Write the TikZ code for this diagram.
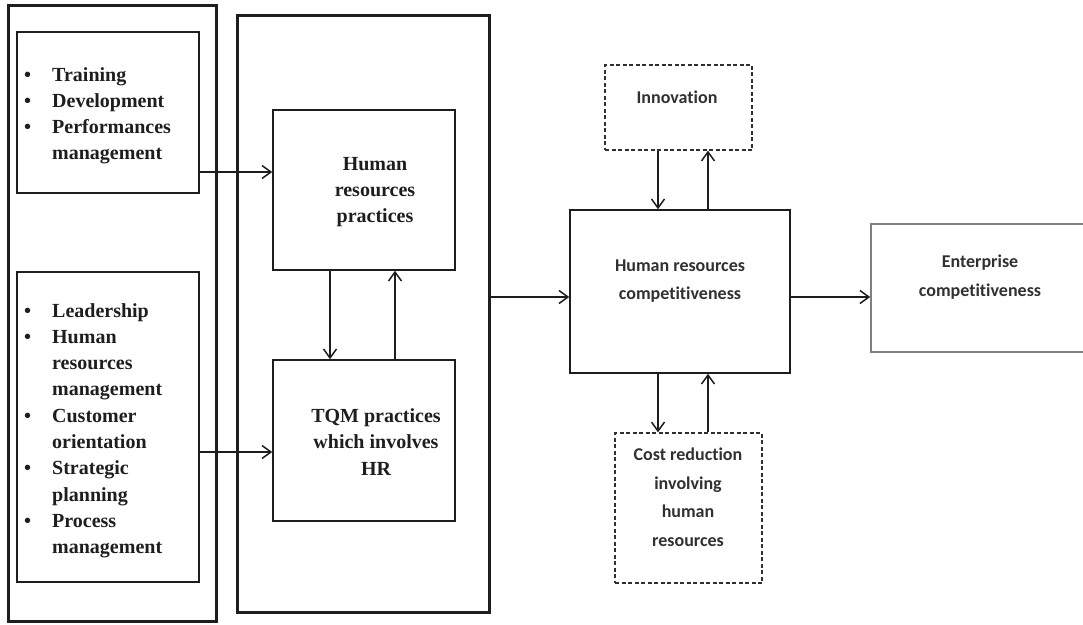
\documentclass[tikz,border=0pt]{standalone}
\usepackage{fontspec}
\setmainfont{Liberation Serif}
\newfontfamily\calib[Ligatures=NoCommon]{Carlito}
\usetikzlibrary{arrows.meta}
\definecolor{ink}{HTML}{1E1E1E}
\definecolor{soft}{HTML}{303030}
\definecolor{entgray}{HTML}{808080}
\tikzset{
  outerbox/.style={draw=ink, line width=3pt, inner sep=0pt},
  innerbox/.style={draw=ink, line width=1.5pt, inner sep=0pt},
  dashbox/.style={draw=soft, line width=1.3pt, dash pattern=on 4pt off 2.5pt, inner sep=0pt},
  entbox/.style={draw=entgray, line width=1.6pt, inner sep=0pt},
  arr/.style={draw=ink, line width=1.5pt, -{Straight Barb[length=9pt,width=13pt]}},
  serifbold/.style={font=\fontsize{20}{26.3}\selectfont\bfseries, text=ink, inner sep=0pt},
  sanstxt/.style={font=\calib\fontsize{18}{28.5}\selectfont\bfseries, text=soft, inner sep=0pt, align=center},
}
\begin{document}
\begin{tikzpicture}[x=1pt,y=-1pt]
\useasboundingbox (0,0) rectangle (1083,624);
% boxes
\node[outerbox, minimum width=208pt, minimum height=616pt] (outerL) at (112,313) {};
\node[outerbox, minimum width=252pt, minimum height=597pt] (outerM) at (363,313.5) {};
\node[innerbox, minimum width=182pt, minimum height=161pt] (trainBox) at (108,112.5) {};
\node[innerbox, minimum width=182pt, minimum height=310pt] (leadBox) at (108,427) {};
\node[innerbox, minimum width=182pt, minimum height=160pt] (hrp) at (364,190) {};
\node[innerbox, minimum width=182pt, minimum height=161pt] (tqm) at (364,440.5) {};
\node[dashbox, minimum width=147pt, minimum height=85pt] (innov) at (678.5,107.5) {};
\node[innerbox, minimum width=220pt, minimum height=163pt] (hrc) at (680,291.5) {};
\node[dashbox, minimum width=147pt, minimum height=150pt] (cost) at (688.5,508) {};
\node[entbox, minimum width=224pt, minimum height=128pt] (ent) at (983,288) {};
% lists
\node[serifbold, anchor=base west] (list1) at (24,81) {%
\begin{tabular}[t]{@{}p{28pt}@{}l@{}}
\textbullet & Training\\
\textbullet & Development\\
\textbullet & Performances\\
 & management
\end{tabular}};
\node[serifbold, anchor=base west] (list2) at (24,317) {%
\begin{tabular}[t]{@{}p{28pt}@{}l@{}}
\textbullet & Leadership\\
\textbullet & Human\\
 & resources\\
 & management\\
\textbullet & Customer\\
 & orientation\\
\textbullet & Strategic\\
 & planning\\
\textbullet & Process\\
 & management
\end{tabular}};
% texts
\node[serifbold, align=center] (hrpText) at (375,192) {Human\\resources\\practices};
\node[serifbold, align=center] (tqmText) at (376,442) {TQM practices\\which involves\\HR};
\node[sanstxt] (innovText) at (677,97) {Innovation};
\node[sanstxt] (hrcText) at (680,281) {Human resources\\competitiveness};
\node[sanstxt] (entText) at (980,277) {Enterprise\\competitiveness};
\node[sanstxt] (costText) at (688,497) {Cost reduction\\involving\\human\\resources};
% connectors
\draw[arr] (trainBox.east |- 0,172) -- (hrp.west |- 0,172);
\draw[arr] (leadBox.east |- 0,452) -- (tqm.west |- 0,452);
\draw[arr] (hrp.south -| 330,0) -- (tqm.north -| 330,0);
\draw[arr] (tqm.north -| 395,0) -- (hrp.south -| 395,0);
\draw[arr] (outerM.east |- 0,297) -- (hrc.west |- 0,297);
\draw[arr] (hrc.east |- 0,297) -- (ent.west |- 0,297);
\draw[arr] (innov.south -| 658,0) -- (hrc.north -| 658,0);
\draw[arr] (hrc.north -| 708,0) -- (innov.south -| 708,0);
\draw[arr] (hrc.south -| 658,0) -- (cost.north -| 658,0);
\draw[arr] (cost.north -| 708,0) -- (hrc.south -| 708,0);
\end{tikzpicture}
\end{document}
